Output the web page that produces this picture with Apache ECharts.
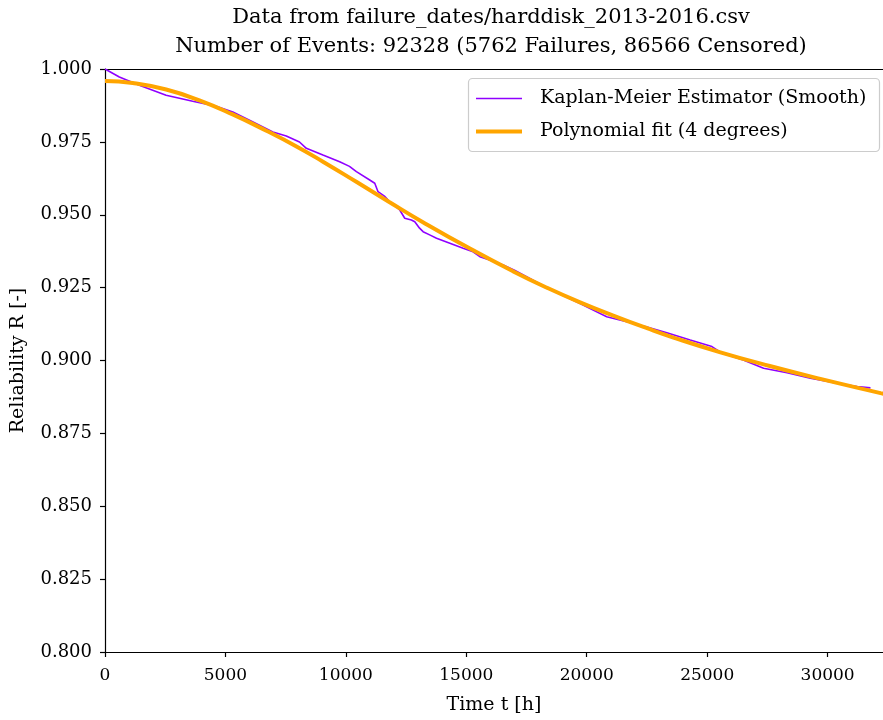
<!DOCTYPE html>
<html>
<head>
<meta charset="utf-8">
<script src="https://cdn.jsdelivr.net/npm/echarts@6/dist/echarts.min.js"></script>
<style>
  html, body { margin: 0; padding: 0; background: #fff; }
  #chart { width: 883px; height: 720px; }
</style>
</head>
<body>
<div id="chart"></div>
<script>
// Kaplan-Meier survival estimate (smoothed), time in hours
const kmTime = [0, 595, 1426, 2536, 3642, 4615, 5306, 5999, 6969, 7526, 8075, 8358, 9048, 9742,
  10150, 10437, 10990, 11200, 11335, 11600, 11821, 12237, 12445, 12720, 12861, 13060, 13206,
  13500, 13763, 14317, 14869, 15280, 15563, 16000, 16532, 17000, 17505, 18400, 19700, 20831,
  21663, 22500, 23326, 24295, 25197, 25600, 26500, 27343, 28316, 29285, 30395, 31226, 31780];
const kmReliability = [1.0000, 0.99726, 0.99441, 0.99098, 0.98892, 0.98720, 0.98525, 0.98240,
  0.97839, 0.97701, 0.97495, 0.97280, 0.97050, 0.96820, 0.96660, 0.96477, 0.96192, 0.96080,
  0.95791, 0.95640, 0.95448, 0.95163, 0.94879, 0.94820, 0.94762, 0.94540, 0.94419, 0.94300,
  0.94193, 0.94021, 0.93850, 0.93730, 0.93562, 0.93440, 0.93277, 0.93100, 0.92876, 0.92470,
  0.91960, 0.91504, 0.91331, 0.91150, 0.90954, 0.90703, 0.90477, 0.90260, 0.90020, 0.89733,
  0.89582, 0.89391, 0.89220, 0.89103, 0.89060];

// 4th degree polynomial fit of the estimate
const fitTime = [0, 1150, 2540, 3920, 5300, 6700, 7950, 9050, 10450, 11800, 13200, 15150, 16950,
  18350, 19700, 21100, 22500, 23600, 25550, 27600, 29700, 32200, 32600];
const fitReliability = [0.99588, 0.99519, 0.99297, 0.98924, 0.98441, 0.97881, 0.97344, 0.96821,
  0.96121, 0.95439, 0.94746, 0.93839, 0.93056, 0.92496, 0.92003, 0.91541, 0.91107, 0.90788,
  0.90281, 0.89810, 0.89369, 0.88882, 0.88806];

const yTicks = [0.800, 0.825, 0.850, 0.875, 0.900, 0.925, 0.950, 0.975, 1.000];

const titleLines = [
  'Data from failure_dates/harddisk_2013-2016.csv',
  'Number of Events: 92328 (5762 Failures, 86566 Censored)'
];
const seriesNames = ['Kaplan-Meier Estimator (Smooth)', 'Polynomial fit (4 degrees)'];
const kmColor = '#8f00ff';
const fitColor = '#ffa500';

const serif = 'DejaVu Serif';
const pair = (xs, ys) => xs.map((x, i) => [x, ys[i]]);

// one borderless legend per entry so each key line keeps its own thickness
const legendEntry = (name, top, thickness) => ({
  data: [{ name: name, icon: 'rect' }],
  orient: 'vertical',
  left: 476,
  top: top,
  padding: 0,
  z: 10,
  itemWidth: 46,
  itemHeight: thickness,
  textStyle: { fontFamily: serif, fontSize: 19, color: '#000', padding: [0, 0, 0, 13] }
});

const chart = echarts.init(document.getElementById('chart'), null, { renderer: 'canvas' });
chart.setOption({
  animation: false,
  backgroundColor: '#ffffff',
  title: {
    text: titleLines.join('\n'),
    left: 491,
    top: 3,
    padding: 0,
    textAlign: 'center',
    textStyle: { fontFamily: serif, fontSize: 21, fontWeight: 'normal', color: '#000', lineHeight: 29 }
  },
  graphic: [{
    type: 'rect',
    shape: { x: 468.5, y: 78.5, width: 411, height: 73, r: 4 },
    style: { fill: '#ffffff', stroke: '#cccccc', lineWidth: 1.2 },
    z: 5
  }],
  grid: { left: 105, right: 0, top: 69, bottom: 68, containLabel: false, outerBoundsMode: 'none' },
  legend: [
    legendEntry(seriesNames[0], 89, 1.6),
    legendEntry(seriesNames[1], 122, 4)
  ],
  xAxis: [{
    type: 'value',
    min: 0,
    max: 32300,
    interval: 5000,
    name: 'Time t [h]',
    nameLocation: 'middle',
    nameGap: 44,
    nameTextStyle: { fontFamily: serif, fontSize: 19, color: '#000' },
    axisLine: { show: true, onZero: false, lineStyle: { color: '#000', width: 1.2 } },
    axisTick: { show: true, length: 5, lineStyle: { color: '#000', width: 1.2 } },
    axisLabel: { fontFamily: serif, fontSize: 17, color: '#000', margin: 15, showMaxLabel: false,
      formatter: v => String(v) },
    splitLine: { show: false }
  }, {
    type: 'value',
    position: 'top',
    min: 0,
    max: 32300,
    axisLine: { show: true, lineStyle: { color: '#000', width: 1.2 } },
    axisTick: { show: false },
    axisLabel: { show: false },
    splitLine: { show: false }
  }],
  yAxis: {
    type: 'value',
    min: yTicks[0],
    max: yTicks[yTicks.length - 1],
    interval: 0.025,
    name: 'Reliability R [-]',
    nameLocation: 'middle',
    nameGap: 77,
    nameTextStyle: { fontFamily: serif, fontSize: 19, color: '#000' },
    axisLine: { show: true, lineStyle: { color: '#000', width: 1.2 } },
    axisTick: { show: true, length: 5, lineStyle: { color: '#000', width: 1.2 } },
    axisLabel: { fontFamily: serif, fontSize: 18, color: '#000', margin: 13,
      formatter: v => v.toFixed(3) },
    splitLine: { show: false }
  },
  series: [{
    name: seriesNames[0],
    type: 'line',
    data: pair(kmTime, kmReliability),
    symbol: 'none',
    showSymbol: false,
    lineStyle: { color: kmColor, width: 1.6 },
    itemStyle: { color: kmColor },
    z: 2
  }, {
    name: seriesNames[1],
    type: 'line',
    data: pair(fitTime, fitReliability),
    symbol: 'none',
    showSymbol: false,
    smooth: 0.5,
    clip: true,
    lineStyle: { color: fitColor, width: 4 },
    itemStyle: { color: fitColor },
    z: 3
  }]
});
</script>
</body>
</html>
